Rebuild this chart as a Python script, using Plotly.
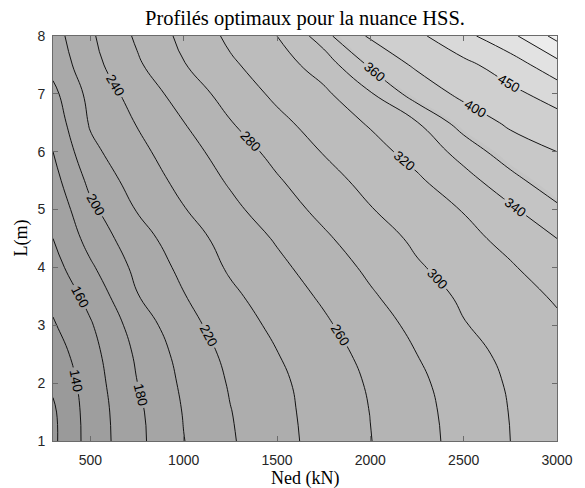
import numpy as np
import plotly.graph_objects as go

# Ned (kN) en abscisse, L (m) en ordonnée
ned = [300, 500, 750, 1000, 1250, 1500, 1750, 2000, 2250, 2500, 2750, 3000]
longueur = [1, 1.5, 2, 2.5, 3, 3.5, 4, 4.5, 5, 5.5, 6, 6.5, 7, 7.5, 8]

# hauteur du profil optimal (mm)
profil = [
    [116, 148, 175, 199.5, 218, 233.4, 247, 259.5, 273, 286.7, 300, 312],
    [117, 148.6, 176, 201, 219.4, 234.4, 247.8, 260.3, 274, 287.5, 300.6, 313],
    [123, 150, 179.7, 203.5, 221.7, 236, 249, 262, 276, 289.6, 302, 313],
    [130, 153, 183, 207, 225, 239.4, 252, 265.5, 280, 293, 305, 315],
    [138, 158, 189, 213, 230, 244.5, 257, 271, 285, 299, 308, 317],
    [145, 166, 199, 219, 236, 250, 262.7, 277.5, 291, 303, 313, 322],
    [152.5, 177, 205, 225, 242.6, 255.4, 269.5, 284, 298, 308, 318, 331],
    [160, 187, 212, 231, 247.5, 262, 277, 291, 303.6, 314, 326, 340],
    [166, 195.6, 221, 239, 255, 271, 285, 299, 310, 321, 337, 355],
    [173, 205, 229, 245.5, 262.5, 278, 293, 306, 317, 333, 352, 376],
    [180, 215, 234.6, 252, 269.6, 286, 301, 313, 327, 347, 373, 400],
    [188, 222, 241, 259.6, 279, 295, 309, 322, 339, 369.5, 409, 431],
    [195, 226, 248, 268.5, 288, 304, 316, 338, 370, 412, 438, 470],
    [206, 233, 257, 279, 297, 311, 329, 363, 408, 438, 475, 532],
    [212, 237, 263, 285, 304, 320, 349, 406, 440, 486, 537, 615],
]

# niveaux = hauteurs de profils HE
niveaux = [120, 140, 160, 180, 200, 220, 240, 260, 280, 300, 320, 340, 360,
           400, 450, 500, 550, 600]

z = np.array(profil, dtype=float)

# niveaux non uniformes -> indice uniforme pour le remplissage
noeuds = [100] + niveaux + [700]
indices = np.arange(-1, len(niveaux) + 1)
z_idx = np.interp(z, noeuds, indices)


def gris(v):
    g = int(round(152 + (v - 110) * 0.19))
    return f"rgb({g},{g},{g})"


n = len(niveaux)
echelle = [[0, gris(110)]]
for k in range(n):
    echelle.append([(k + 1) / n, gris(niveaux[k])])
echelle[-1][0] = 1.0

noir = [[0, "black"], [1, "black"]]
police_lab = dict(family="Liberation Sans", size=13.5, color="black")

fig = go.Figure()

fig.add_trace(go.Contour(
    x=ned, y=longueur, z=z_idx,
    colorscale=echelle, showscale=False,
    contours=dict(start=0, end=n - 1, size=1, coloring="fill", showlines=False),
    line=dict(width=0, smoothing=1.3),
    hoverinfo="skip",
))

fig.add_trace(go.Contour(
    x=ned, y=longueur, z=z,
    colorscale=noir, showscale=False,
    contours=dict(start=120, end=360, size=20, coloring="lines",
                  showlabels=True, labelfont=police_lab),
    line=dict(width=0.9, smoothing=1.3),
))

fig.add_trace(go.Contour(
    x=ned, y=longueur, z=z,
    colorscale=noir, showscale=False,
    contours=dict(start=400, end=600, size=50, coloring="lines",
                  showlabels=True, labelfont=police_lab),
    line=dict(width=0.9, smoothing=1.3),
))

axe = dict(
    showline=True, linecolor="#6b6b6b", linewidth=1, mirror="ticks",
    ticks="inside", ticklen=5, tickcolor="#6b6b6b",
    showgrid=False, zeroline=False,
    tickfont=dict(family="Liberation Sans", size=14, color="#262626"),
)

fig.update_layout(
    width=585, height=488,
    margin=dict(l=53, r=19, t=36, b=47),
    paper_bgcolor="white", plot_bgcolor="white",
    showlegend=False,
    xaxis=dict(axe, range=[300, 3000], tickvals=[500, 1000, 1500, 2000, 2500, 3000],
               ticklabelstandoff=6),
    yaxis=dict(axe, range=[1, 8], tickvals=list(range(1, 9)), ticklabelstandoff=4),
    annotations=[
        dict(text="Profilés optimaux pour la nuance HSS.", x=0.5, y=1, xref="paper",
             yref="paper", yanchor="middle", yshift=18, showarrow=False,
             font=dict(family="Liberation Serif", size=20.5, color="black")),
        dict(text="Ned (kN)", x=0.5, y=0, xref="paper", yref="paper",
             yanchor="middle", yshift=-37, showarrow=False,
             font=dict(family="Liberation Serif", size=18, color="black")),
        dict(text="L(m)", x=0, y=0.5, xref="paper", yref="paper",
             xanchor="center", xshift=-32, textangle=-90, showarrow=False,
             font=dict(family="Liberation Serif", size=18, color="black")),
    ],
)

fig.write_html("out.html", config={"displayModeBar": False},
               post_script="document.body.style.margin='0';")
